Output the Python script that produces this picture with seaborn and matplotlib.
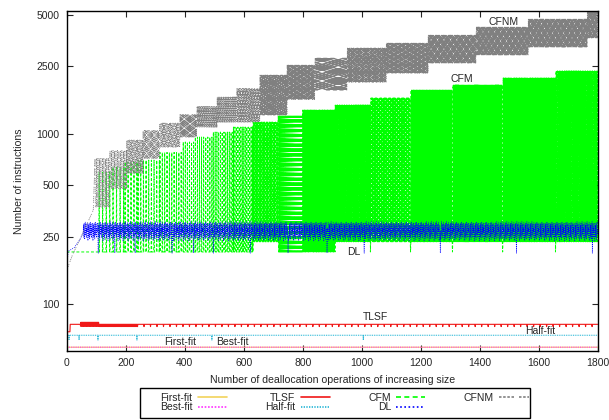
import numpy as np
import matplotlib
matplotlib.use("Agg")
import matplotlib.pyplot as plt
import seaborn as sns
from matplotlib.patches import Rectangle
from matplotlib.ticker import FixedLocator, FixedFormatter, NullLocator

# ---- data ----
n_ops = 1800

# First-fit / Best-fit: flat at the bottom
first_fit_level = 56
best_fit_level = 56

# Half-fit: flat, with a few short drops
half_fit_level = 65.8
half_fit_drop = 61.7
half_fit_drop_ops = [8, 42, 106, 238, 492, 1005]

# TLSF: segments (start op, base value, alternate value, alternate every n ops)
tlsf_start = [0, 12, 47, 110, 240]
tlsf_base = [69, 76.3, 78.4, 76.3, 76.3]
tlsf_alt = [69, 76.3, 74.5, 74, 74]
tlsf_every = [1, 1, 2, 4, 22]

# CFM: segments (start op, low, high, spike every n ops)
cfm_start = [0, 110, 157, 198, 242, 316, 395, 436, 497, 565, 632, 717, 800,
             910, 1029, 1165, 1307, 1477, 1656]
cfm_low = [203, 203, 203, 203, 203, 203, 203, 203, 203, 203, 233, 203, 203,
           233, 233, 233, 233, 233, 233]
cfm_high = [203, 598, 640, 685, 703, 780, 898, 960, 1027, 1099, 1176, 1276, 1383,
            1480, 1627, 1812, 1940, 2133, 2345]
cfm_every = [1, 12, 12, 10, 9, 8, 7, 7, 6, 5, 3, 3, 2, 2, 2, 2, 2, 2, 2]
cfm_dip_ops = [1029, 1165, 1307, 1477, 1656]
cfm_dip = 203

# DL: early ramp, then a noisy band with occasional drops
dl_early_ops = [0, 5, 25, 45, 55]
dl_early = [165, 205, 215, 240, 262]
dl_band = [262, 292, 248, 300, 271, 241, 286, 305, 256, 276, 296, 246, 281,
           266, 301, 251, 236]
dl_drop_ops = [107, 163, 232, 357, 430, 497, 622, 750, 882, 1008, 1266, 1524, 1781]
dl_drop = 200

# CFNM: early ramp, then low/high swings per segment
cfnm_early_ops = [0, 20, 55, 90]
cfnm_early = [158, 196, 262, 357]
cfnm_start = [96, 147, 204, 259, 316, 384, 442, 510, 577, 655, 747, 842, 951,
              1083, 1225, 1388, 1564, 1764]
cfnm_low = [373, 480, 590, 720, 839, 960, 1099, 1176, 1176, 1293, 1600, 1812, 2018,
            2280, 2612, 2912, 3241, 3665]
cfnm_high = [720, 800, 923, 1050, 1160, 1300, 1450, 1650, 1850, 2220, 2540, 2793, 3199,
             3419, 3810, 4250, 4732, 5272]
cfnm_every = [5, 5, 4, 4, 4, 3, 3, 3, 3, 2, 2, 2, 2, 2, 2, 2, 2, 2]

x_ticks = [0, 200, 400, 600, 800, 1000, 1200, 1400, 1600, 1800]
y_ticks = [100, 250, 500, 1000, 2500, 5000]


def build(starts, base, alt, every):
    bounds = list(starts) + [n_ops]
    parts = []
    for i in range(len(starts)):
        seg = np.full(bounds[i + 1] - bounds[i], float(base[i]))
        seg[::every[i]] = alt[i]
        parts.append(seg)
    return np.concatenate(parts)


ops = np.arange(n_ops)

first_fit = np.full(n_ops, float(first_fit_level))
best_fit = np.full(n_ops, float(best_fit_level))
half_fit = np.full(n_ops, float(half_fit_level))
half_fit[half_fit_drop_ops] = half_fit_drop

tlsf = build(tlsf_start, tlsf_base, tlsf_alt, tlsf_every)

cfm = build(cfm_start, cfm_low, cfm_high, cfm_every)
cfm[cfm_dip_ops] = cfm_dip

dl_tail_ops = np.arange(dl_early_ops[-1] + 1, n_ops)
dl_tail = np.resize(np.array(dl_band, dtype=float), len(dl_tail_ops))
dl_x = np.concatenate([dl_early_ops, dl_tail_ops])
dl_y = np.concatenate([dl_early, dl_tail])
dl_y[np.isin(dl_x, dl_drop_ops)] = dl_drop

cfnm_x = np.concatenate([cfnm_early_ops, np.arange(cfnm_start[0], n_ops)])
cfnm_y = np.concatenate([cfnm_early,
                         build(cfnm_start, cfnm_low, cfnm_high, cfnm_every)])

# ---- plot ----
sns.set_style("ticks")
plt.rcParams['font.family'] = ['Liberation Sans', 'DejaVu Sans']

fig = plt.figure(figsize=(6.09, 4.2), dpi=100)
ax = fig.add_axes([0.1095, 0.1643, 0.8724, 0.8102])

series = [
    ("First-fit", ops, first_fit, "#f2d35b", None, 0.8),
    ("Best-fit", ops, best_fit, "#ff33ff", (1, 1), 0.8),
    ("TLSF", ops, tlsf, "#f01818", None, 0.8),
    ("Half-fit", ops, half_fit, "#22b5d5", (0.8, 0.8), 0.8),
    ("CFM", ops, cfm, "#00ff00", (3, 2), 0.7),
    ("DL", dl_x, dl_y, "#0000ff", (1, 1.5), 0.6),
    ("CFNM", cfnm_x, cfnm_y, "#808080", (1.5, 1, 1.5, 1, 1.5, 1, 1.5, 3), 0.55),
]
handles = []
for name, xs, ys, col, dash, lw in series:
    n_before = len(ax.lines)
    sns.lineplot(x=xs, y=ys, ax=ax, color=col, lw=lw, label=name,
                 estimator=None, sort=False, legend=False)
    line = ax.lines[n_before]
    if dash is not None:
        line.set_dashes(dash)
    handles.append(line)

ax.set_yscale("log")
ax.set_xlim(0, 1800)
ax.set_ylim(53.2, 5300)
ax.xaxis.set_major_locator(FixedLocator(x_ticks))
ax.yaxis.set_major_locator(FixedLocator(y_ticks))
ax.yaxis.set_major_formatter(FixedFormatter([str(v) for v in y_ticks]))
ax.yaxis.set_minor_locator(NullLocator())
ax.tick_params(direction="in", length=4, width=0.8, top=True, right=True,
               labelsize=7.5, pad=5)
for sp in ax.spines.values():
    sp.set_linewidth(1.0)
    sp.set_color("black")

ax.set_xlabel("Number of deallocation operations of increasing size", fontsize=7.6, labelpad=5)
ax.set_ylabel("Number of instructions", fontsize=7.6, labelpad=9)

# in-plot labels
ax.text(1479, 4550, "CFNM", fontsize=7.5, ha="center", va="center")
ax.text(1340, 2104, "CFM", fontsize=7.5, ha="center", va="center")
ax.text(974, 203, "DL", fontsize=7.5, ha="center", va="center")
ax.text(1045, 84.2, "TLSF", fontsize=7.5, ha="center", va="center")
ax.text(1604, 69.6, "Half-fit", fontsize=7.5, ha="center", va="center")
ax.text(385, 60.1, "First-fit", fontsize=7.5, ha="center", va="center")
ax.text(561, 60.1, "Best-fit", fontsize=7.5, ha="center", va="center")

# legend box below the axes (gnuplot style: text then sample)
fig.patches.append(Rectangle((140 / 609, 2 / 420), 390 / 609, 30 / 420,
                             transform=fig.transFigure, fill=False,
                             edgecolor="black", lw=1.0))
leg = fig.legend(handles=handles, labels=[s[0] for s in series],
                 loc="upper left", bbox_to_anchor=(160 / 609, 1 - 393 / 420), ncol=4,
                 markerfirst=False, frameon=False, fontsize=7.5,
                 handlelength=2.8, columnspacing=3.7, labelspacing=-0.05,
                 borderpad=0, borderaxespad=0, handletextpad=0.5)
for legline in leg.get_lines():
    legline.set_linewidth(1.2)

fig.savefig("out.png", dpi=100)
